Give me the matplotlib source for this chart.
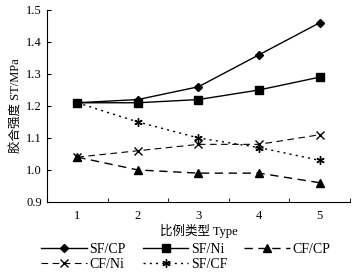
import matplotlib
matplotlib.use("Agg")
import matplotlib.pyplot as plt

plt.rcParams['font.family'] = ['Liberation Serif', 'Noto Sans CJK SC']
plt.rcParams['font.size'] = 9

types = [1, 2, 3, 4, 5]
sf_cp = [1.21, 1.22, 1.26, 1.36, 1.46]
sf_ni = [1.21, 1.21, 1.22, 1.25, 1.29]
cf_cp = [1.04, 1.00, 0.99, 0.99, 0.96]
cf_ni = [1.04, 1.06, 1.08, 1.08, 1.11]
sf_cf = [1.21, 1.15, 1.10, 1.07, 1.03]

fig = plt.figure(figsize=(3.56, 2.77), dpi=100)
ax = fig.add_axes([0.132, 0.271, 0.851, 0.693])

h1, = ax.plot(types, sf_cp, color='black', lw=1, marker='D', ms=4, label='SF/CP')
h2, = ax.plot(types, sf_ni, color='black', lw=1, marker='s', ms=6, label='SF/Ni')
h3, = ax.plot(types, cf_cp, color='black', lw=1, ls=(0, (6, 4)), marker='^', ms=6, label='CF/CP')
h4, = ax.plot(types, cf_ni, color='black', lw=0.8, ls=(0, (6, 4)), marker='x', ms=6, label='CF/Ni')
h5, = ax.plot(types, sf_cf, color='black', lw=1, ls=(0, (1.5, 3)), marker=(6, 2, 0), ms=6, label='SF/CF')

ax.set_xlim(0.5, 5.5)
ax.set_ylim(0.9, 1.5)
ax.set_xticks(types)
ax.set_xticks([1.5, 2.5, 3.5, 4.5, 5.5], minor=True)
ax.tick_params(axis='x', which='major', length=0, pad=6)
ax.tick_params(axis='x', which='minor', direction='in', length=3)
ax.set_yticks([0.9, 1.0, 1.1, 1.2, 1.3, 1.4, 1.5])
ax.set_yticklabels(['0.9', '1.0', '1.1', '1.2', '1.3', '1.4', '1.5'])
ax.tick_params(axis='y', direction='in', length=3)
for s in ['top', 'right']:
    ax.spines[s].set_visible(False)

ax.set_xlabel('比例类型 Type', labelpad=1)
ax.set_ylabel('胶合强度 ST/MPa', labelpad=3)

# column-major fill, so reorder to get rows SF/CP SF/Ni CF/CP / CF/Ni SF/CF
handles = [h1, h4, h2, h5, h3]
fig.legend(handles, [h.get_label() for h in handles], loc='upper left',
           bbox_to_anchor=(0.115, 0.122), ncol=3, frameon=False,
           borderpad=0, borderaxespad=0,
           handlelength=3.3, columnspacing=1.2, handletextpad=0.2, labelspacing=0.1,
           fontsize=10)

fig.savefig('out.png', dpi=100)
